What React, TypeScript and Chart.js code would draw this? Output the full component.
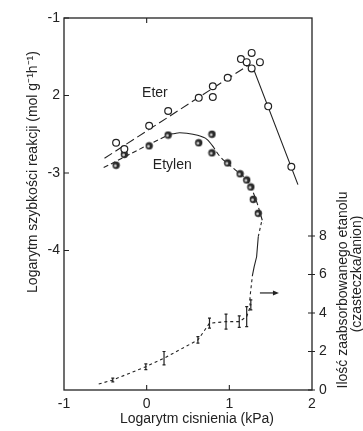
import React, { useEffect, useRef } from "react";
import { Chart, registerables } from "chart.js";

Chart.register(...registerables);

// ---- axis ticks ----
const xTickValues = [-1, 0, 1, 2];
const leftTickValues = [-1, -2, -3, -4];
const leftTickLabels = ["-1", "2", "-3", "-4"];
const rightTickValues = [0, 2, 4, 6, 8];

// ---- Eter (open circles) ----
const eterX = [-0.37, -0.27, 0.03, 0.26, 0.63, 0.8, 0.8, 0.98, 1.14, 1.21, 1.27, 1.27, 1.37, 1.47, 1.75];
const eterY = [-2.61, -2.69, -2.39, -2.2, -2.03, -1.88, -2.02, -1.77, -1.53, -1.57, -1.45, -1.65, -1.57, -2.14, -2.92];

// ---- Etylen (half-filled circles) ----
const etylenX = [-0.37, -0.27, 0.03, 0.26, 0.63, 0.79, 0.79, 0.98, 1.13, 1.21, 1.26, 1.29, 1.35];
const etylenY = [-2.9, -2.76, -2.65, -2.51, -2.61, -2.5, -2.74, -2.87, -3.01, -3.09, -3.18, -3.34, -3.52];

// ---- fitted curves ----
const eterFitX = [-0.51, 1.23, 1.29, 1.83];
const eterFitY = [-2.81, -1.61, -1.65, -3.15];

const etylenFitX = [-0.52, 0.26, 0.34, 0.4, 0.56, 0.71, 0.79, 0.89, 1.05, 1.21, 1.31, 1.41];
const etylenFitY = [-2.93, -2.51, -2.49, -2.48, -2.5, -2.55, -2.64, -2.79, -2.94, -3.09, -3.31, -3.65];

// ---- adsorbed ethanol (right axis) ----
const ethanolX = [-0.58, -0.41, -0.01, 0.21, 0.62, 0.76, 0.96, 1.12, 1.21, 1.26, 1.25, 1.28, 1.3, 1.33, 1.35, 1.39];
const ethanolY = [0.31, 0.52, 1.21, 1.65, 2.6, 3.47, 3.55, 3.55, 3.81, 4.42, 4.83, 5.97, 6.39, 6.92, 7.96, 8.74];

const ethErrX = [-0.41, -0.01, 0.21, 0.62, 0.76, 0.96, 1.12, 1.21, 1.26];
const ethErrY = [0.52, 1.21, 1.65, 2.6, 3.47, 3.55, 3.55, 3.81, 4.42];
const ethErr = [0.1, 0.15, 0.35, 0.17, 0.26, 0.39, 0.3, 0.52, 0.26];

const arrowX = [1.37, 1.6];
const arrowY = [5.04, 5.04];

const FONT = '"Liberation Sans", Arial, Helvetica, sans-serif';
const INK = "#222";

function makeHalfDot(): HTMLCanvasElement {
  const c = document.createElement("canvas");
  c.width = 9;
  c.height = 9;
  const g = c.getContext("2d")!;
  g.beginPath();
  g.arc(4.5, 4.5, 3.7, 0, Math.PI * 2);
  g.fillStyle = "#2a2a2a";
  g.fill();
  g.beginPath();
  g.arc(3.7, 5.0, 1.4, 0, Math.PI * 2);
  g.fillStyle = "#cfcfcf";
  g.fill();
  return c;
}

const decorPlugin = {
  id: "decor",
  afterDatasetsDraw(chart: any) {
    const ctx = chart.ctx as CanvasRenderingContext2D;
    const xs = chart.scales.x;
    const y2 = chart.scales.y2;
    ctx.save();
    ctx.strokeStyle = INK;
    ctx.fillStyle = INK;
    ctx.lineWidth = 1.2;
    // error bars
    for (let i = 0; i < ethErrX.length; i++) {
      const px = xs.getPixelForValue(ethErrX[i]);
      const top = y2.getPixelForValue(ethErrY[i] + ethErr[i]);
      const bot = y2.getPixelForValue(ethErrY[i] - ethErr[i]);
      ctx.beginPath();
      ctx.moveTo(px, top);
      ctx.lineTo(px, bot);
      ctx.moveTo(px - 1.5, top);
      ctx.lineTo(px + 1.5, top);
      ctx.moveTo(px - 1.5, bot);
      ctx.lineTo(px + 1.5, bot);
      ctx.stroke();
    }
    // arrow
    const ax0 = xs.getPixelForValue(arrowX[0]);
    const ax1 = xs.getPixelForValue(arrowX[1]);
    const ay = y2.getPixelForValue(arrowY[0]);
    ctx.beginPath();
    ctx.moveTo(ax0, ay);
    ctx.lineTo(ax1 - 4, ay);
    ctx.stroke();
    ctx.beginPath();
    ctx.moveTo(ax1, ay);
    ctx.lineTo(ax1 - 6, ay - 2.5);
    ctx.lineTo(ax1 - 6, ay + 2.5);
    ctx.closePath();
    ctx.fill();
    ctx.restore();
  },
  afterDraw(chart: any) {
    const ctx = chart.ctx as CanvasRenderingContext2D;
    const a = chart.chartArea;
    const xs = chart.scales.x;
    const ys = chart.scales.y;
    const y2 = chart.scales.y2;
    ctx.save();
    ctx.strokeStyle = INK;
    ctx.lineWidth = 1.3;
    ctx.strokeRect(a.left, a.top, a.right - a.left, a.bottom - a.top);
    ctx.lineWidth = 1.1;
    ctx.beginPath();
    // bottom inward ticks
    [0, 1].forEach((v) => {
      const px = xs.getPixelForValue(v);
      ctx.moveTo(px, a.bottom);
      ctx.lineTo(px, a.bottom - 5);
    });
    // top inward tick
    [0].forEach((v) => {
      const px = xs.getPixelForValue(v);
      ctx.moveTo(px, a.top);
      ctx.lineTo(px, a.top + 5);
    });
    // left inward ticks
    leftTickValues.forEach((v) => {
      const py = ys.getPixelForValue(v);
      ctx.moveTo(a.left, py);
      ctx.lineTo(a.left + 5, py);
    });
    // right ticks
    rightTickValues.forEach((v) => {
      const py = y2.getPixelForValue(v);
      ctx.moveTo(a.right - 4, py);
      ctx.lineTo(a.right + 3, py);
    });
    ctx.stroke();

    ctx.fillStyle = INK;
    ctx.font = `14px ${FONT}`;
    ctx.textAlign = "center";
    ctx.textBaseline = "middle";
    // curve labels
    ctx.fillText("Eter", xs.getPixelForValue(0.1), ys.getPixelForValue(-1.97));
    ctx.fillText("Etylen", xs.getPixelForValue(0.31), ys.getPixelForValue(-2.9));
    // x title
    ctx.fillText("Logarytm cisnienia (kPa)", 197, 419);
    // left title
    ctx.save();
    ctx.translate(33, 172);
    ctx.rotate(-Math.PI / 2);
    ctx.fillText("Logarytm szybkości reakcji (mol g\u207B\u00B9h\u207B\u00B9)", 0, 0);
    ctx.restore();
    // right title
    ctx.save();
    ctx.translate(343, 290);
    ctx.rotate(-Math.PI / 2);
    ctx.fillText("Ilość zaabsorbowanego etanolu", 0, 0);
    ctx.restore();
    ctx.save();
    ctx.translate(357, 274);
    ctx.rotate(-Math.PI / 2);
    ctx.fillText("(czasteczka/anion)", 0, 0);
    ctx.restore();
    ctx.restore();
  },
};

export default function App() {
  const ref = useRef<HTMLCanvasElement | null>(null);
  useEffect(() => {
    if (!ref.current) return;
    const halfDot = makeHalfDot();
    const toPts = (xa: number[], ya: number[]) => xa.map((x, i) => ({ x, y: ya[i] }));
    const chart = new Chart(ref.current, {
      type: "scatter",
      data: {
        datasets: [
          {
            label: "Eter",
            data: toPts(eterX, eterY),
            yAxisID: "y",
            showLine: false,
            pointStyle: "circle",
            pointRadius: 3.4,
            pointBorderWidth: 1.2,
            pointBackgroundColor: "#ffffff",
            pointBorderColor: INK,
            order: 0,
          } as any,
          {
            label: "Etylen",
            data: toPts(etylenX, etylenY),
            yAxisID: "y",
            showLine: false,
            pointStyle: halfDot,
            pointRadius: 4,
            order: 0,
          } as any,
          {
            label: "Eter fit",
            data: toPts(eterFitX, eterFitY),
            yAxisID: "y",
            showLine: true,
            pointRadius: 0,
            borderColor: INK,
            borderWidth: 1.1,
            segment: {
              borderDash: (c: any) => (c.p0DataIndex === 0 ? [9, 4] : []),
            },
            order: 1,
          } as any,
          {
            label: "Etylen fit",
            data: toPts(etylenFitX, etylenFitY),
            yAxisID: "y",
            showLine: true,
            tension: 0.35,
            pointRadius: 0,
            borderColor: INK,
            borderWidth: 1.1,
            segment: {
              borderDash: (c: any) => (c.p0DataIndex < 1 || c.p0DataIndex >= 6 ? [5, 3] : []),
            },
            order: 1,
          } as any,
          {
            label: "Etanol",
            data: toPts(ethanolX, ethanolY),
            yAxisID: "y2",
            showLine: true,
            pointRadius: 0,
            borderColor: INK,
            borderWidth: 1.1,
            segment: {
              borderDash: (c: any) =>
                c.p0DataIndex < 11 || c.p0DataIndex >= 14 ? [3, 3] : [],
            },
            order: 1,
          } as any,
        ],
      },
      options: {
        animation: false,
        responsive: false,
        layout: { padding: { top: 18, left: 0, right: 0, bottom: 0 } },
        plugins: {
          legend: { display: false },
          tooltip: { enabled: false },
        },
        scales: {
          x: {
            type: "linear",
            min: -1,
            max: 2,
            afterBuildTicks: (s: any) => {
              s.ticks = xTickValues.map((v) => ({ value: v }));
            },
            afterFit: (s: any) => {
              s.height = 41;
            },
            grid: { display: false, drawTicks: false },
            border: { display: false },
            ticks: {
              padding: 6,
              color: INK,
              font: { family: FONT, size: 14 },
              maxRotation: 0,
              callback: (v: any) => String(v),
            },
          },
          y: {
            type: "linear",
            position: "left",
            min: -5.8,
            max: -1,
            afterBuildTicks: (s: any) => {
              s.ticks = leftTickValues.map((v) => ({ value: v }));
            },
            afterFit: (s: any) => {
              s.width = 64;
            },
            grid: { display: false, drawTicks: false },
            border: { display: false },
            ticks: {
              padding: 4,
              color: INK,
              font: { family: FONT, size: 14 },
              callback: (v: any) => {
                const i = leftTickValues.indexOf(Number(v));
                return i >= 0 ? leftTickLabels[i] : "";
              },
            },
          },
          y2: {
            type: "linear",
            position: "right",
            min: 0,
            max: 19.32,
            afterBuildTicks: (s: any) => {
              s.ticks = rightTickValues.map((v) => ({ value: v }));
            },
            afterFit: (s: any) => {
              s.width = 51;
            },
            grid: { display: false, drawTicks: false },
            border: { display: false },
            ticks: {
              padding: 7,
              color: INK,
              font: { family: FONT, size: 14 },
              callback: (v: any) => String(v),
            },
          },
        },
      },
      plugins: [decorPlugin],
    });
    return () => chart.destroy();
  }, []);

  return (
    <div style={{ position: "fixed", left: 0, top: 0, width: 363, height: 431, background: "#fff" }}>
      <canvas ref={ref} width={363} height={431} style={{ display: "block" }} />
    </div>
  );
}
